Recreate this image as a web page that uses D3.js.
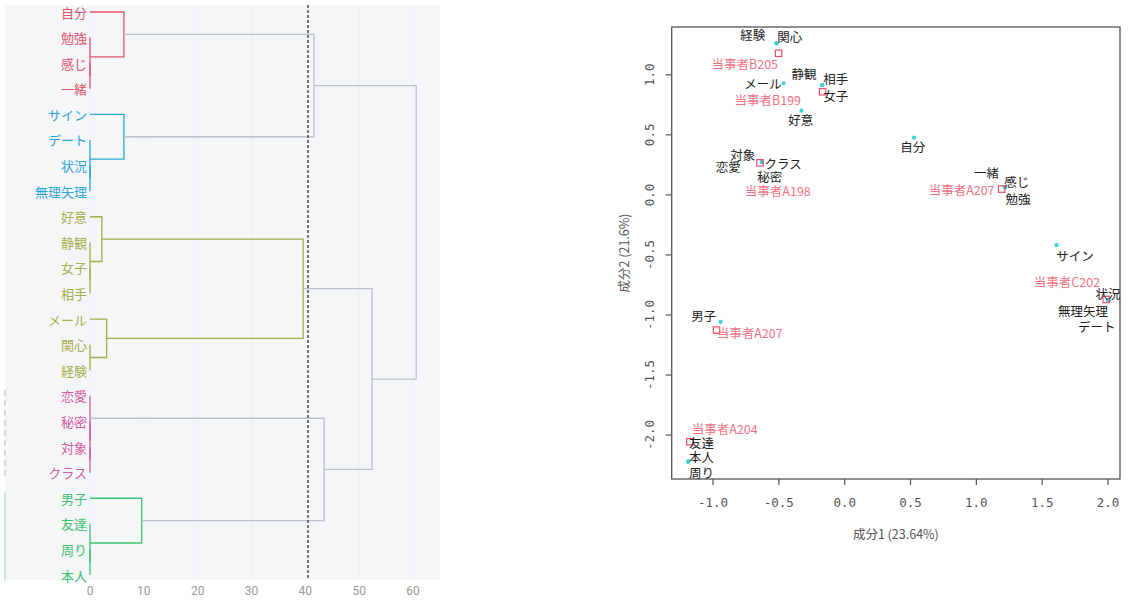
<!DOCTYPE html>
<html><head><meta charset="utf-8">
<script src="https://cdn.jsdelivr.net/npm/d3@7"></script>
<style>body{margin:0;background:#fff;}svg{display:block;font-family:"Noto Sans CJK JP","DejaVu Sans",sans-serif;}</style>
</head><body><svg id="c" width="1128" height="601"></svg>
<script>
// ---------- Dendrogram data ----------
const leaves = ["自分","勉強","感じ","一緒","サイン","デート","状況","無理矢理","好意","静観","女子","相手","メール","関心","経験","恋愛","秘密","対象","クラス","男子","友達","周り","本人"];
const leafCluster = [0,0,0,0,1,1,1,1,2,2,2,2,2,2,2,3,3,3,3,4,4,4,4];
const clusterColors = ["#e2546c","#2ea6d8","#a7ae4a","#d45aa2","#3ec070"];
// merges: [childA, childB, height]; children are leaf names or "m<n>" (1-based merge index)
const merges = [
  ["感じ","一緒",0], ["勉強","m1",0], ["自分","m2",6.3],
  ["状況","無理矢理",0], ["デート","m4",0], ["サイン","m5",6.3],
  ["女子","相手",0], ["静観","m7",0], ["好意","m8",2.2],
  ["関心","経験",0], ["メール","m10",3.1], ["m9","m11",39.6],
  ["対象","クラス",0], ["秘密","m13",0], ["恋愛","m14",0],
  ["周り","本人",0], ["友達","m16",0], ["男子","m17",9.6],
  ["m15","m18",43.5], ["m12","m19",52.4], ["m3","m6",41.6], ["m21","m20",60.6]
];
const cutHeight = 40.5;
const dendroTicks = [0,10,20,30,40,50,60];

// ---------- Correspondence plot data ----------
const terms = ["経験","関心","メール","静観","相手","女子","好意","対象","クラス","恋愛","秘密","自分","一緒","感じ","勉強","サイン","状況","無理矢理","デート","男子","友達","本人","周り"];
const termX = [-0.514,-0.514,-0.46,-0.167,-0.167,-0.167,-0.324,-0.625,-0.625,-0.625,-0.625,0.53,1.222,1.222,1.222,1.614,2.006,2.006,2.006,-0.939,-1.185,-1.185,-1.185];
const termY = [1.258,1.258,0.925,0.911,0.911,0.911,0.697,0.27,0.27,0.27,0.27,0.472,0.058,0.058,0.058,-0.4225,-0.881,-0.881,-0.881,-1.062,-2.225,-2.225,-2.225];
const termLabelX = [-0.694,-0.413,-0.616,-0.306,-0.063,-0.063,-0.329,-0.77,-0.464,-0.881,-0.565,0.52,1.082,1.31,1.32,1.753,2.004,1.814,1.918,-1.066,-1.084,-1.084,-1.084];
const termLabelY = [1.3275,1.311,0.925,1.008,0.961,0.822,0.6275,0.336,0.258,0.23,0.1525,0.397,0.18,0.105,-0.033,-0.506,-0.8225,-0.97,-1.103,-1.006,-2.062,-2.18,-2.312];

const persons = ["当事者B205","当事者B199","当事者A198","当事者A207","当事者C202","当事者A207","当事者A204"];
const personX = [-0.498,-0.164,-0.64,1.196,1.99,-0.97,-1.172];
const personY = [1.175,0.855,0.263,0.044,-0.875,-1.13,-2.06];
const personLabelX = [-0.755,-0.58,-0.504,0.892,1.692,-0.717,-0.907];
const personLabelY = [1.094,0.794,0.036,0.042,-0.728,-1.153,-1.95];

const xTicks = [-1.0,-0.5,0.0,0.5,1.0,1.5,2.0];
const yTicks = [-2.0,-1.5,-1.0,-0.5,0.0,0.5,1.0];
const xTitle = "成分1 (23.64%)";
const yTitle = "成分2 (21.6%)";

const svg = d3.select("#c");

// ================= Dendrogram =================
const gD = svg.append("g");
gD.append("rect").attr("x",5).attr("y",5).attr("width",435).attr("height",575).attr("fill","#f4f6f8");
const xD = d3.scaleLinear().domain([0,60]).range([90,413]);
const yD = d3.scalePoint().domain(leaves).range([12,575]);

gD.selectAll("line.grid").data(dendroTicks).join("line")
  .attr("x1",d=>xD(d)).attr("x2",d=>xD(d)).attr("y1",5).attr("y2",580)
  .attr("stroke","#eef1f4").attr("stroke-width",1);

const nodeInfo = {};
leaves.forEach((l,i)=>{ nodeInfo[l] = {y:yD(l), h:0, cl:leafCluster[i]}; });
merges.forEach((m,i)=>{
  const a = nodeInfo[m[0]], b = nodeInfo[m[1]];
  const cl = (a.cl===b.cl) ? a.cl : -1;
  nodeInfo["m"+(i+1)] = {y:(a.y+b.y)/2, h:m[2], cl:cl, a:a, b:b};
});
const mergeNodes = merges.map((m,i)=>nodeInfo["m"+(i+1)]);
gD.selectAll("path.link").data(mergeNodes).join("path")
  .attr("d",n=>`M${xD(n.a.h)},${n.a.y}H${xD(n.h)}V${n.b.y}H${xD(n.b.h)}`)
  .attr("fill","none")
  .attr("stroke",n=>n.cl>=0?clusterColors[n.cl]:"#b9c1cd")
  .attr("stroke-width",1.3);

// cluster side bars (faint)
gD.selectAll("line.side").data([3,4]).join("line")
  .attr("x1",5).attr("x2",5)
  .attr("y1",c=>yD(leaves[leafCluster.indexOf(c)])-6)
  .attr("y2",c=>yD(leaves[leafCluster.lastIndexOf(c)])+6)
  .attr("stroke",c=>clusterColors[c]).attr("stroke-width",1.2).attr("opacity",0.45)
  .attr("stroke-dasharray",c=>c===3?"6,4":null);

gD.selectAll("text.leaf").data(leaves).join("text")
  .attr("x",87).attr("y",d=>yD(d)).attr("text-anchor","end").attr("dominant-baseline","central")
  .attr("font-size",13).attr("fill",(d,i)=>clusterColors[leafCluster[i]]).text(d=>d);

gD.append("line").attr("x1",xD(cutHeight)).attr("x2",xD(cutHeight)).attr("y1",5).attr("y2",580)
  .attr("stroke","#555").attr("stroke-width",1.6).attr("stroke-dasharray","3,2");

gD.selectAll("text.tick").data(dendroTicks).join("text")
  .attr("x",d=>xD(d)).attr("y",591).attr("text-anchor","middle").attr("dominant-baseline","central")
  .attr("font-size",12).attr("fill","#9a9a9a").attr("font-family","Roboto, sans-serif").text(d=>d);

// ================= Scatter =================
const gS = svg.append("g");
const xS = d3.scaleLinear().domain([-1.31,2.095]).range([671.7,1120]);
const yS = d3.scaleLinear().domain([-2.37,1.394]).range([479,27]);

const axB = gS.append("g").attr("transform","translate(0,479)")
  .call(d3.axisBottom(xS).tickValues(xTicks).tickSize(6).tickPadding(13).tickFormat(d=>d.toFixed(1)));
const axL = gS.append("g").attr("transform","translate(671.7,0)")
  .call(d3.axisLeft(yS).tickValues(yTicks).tickSize(6).tickFormat(d=>d.toFixed(1)));
[axB,axL].forEach(a=>{
  a.select(".domain").remove();
  a.selectAll(".tick line").attr("stroke","#555").attr("stroke-width",1.2);
  a.selectAll(".tick text").attr("fill","#555").attr("font-size",12.5).attr("font-family","DejaVu Sans Mono, monospace");
});
axL.selectAll(".tick text").attr("transform","rotate(-90)").attr("x",0).attr("y",-22)
  .attr("dy","0").attr("text-anchor","middle").attr("dominant-baseline","central");

gS.append("rect").attr("x",671.7).attr("y",27).attr("width",1120-671.7).attr("height",479-27)
  .attr("fill","none").attr("stroke","#555").attr("stroke-width",1.3);

gS.append("text").attr("x",(671.7+1120)/2).attr("y",533).attr("text-anchor","middle")
  .attr("dominant-baseline","central").attr("font-size",12.5).attr("fill","#555").text(xTitle);
gS.append("text").attr("transform",`translate(623,${(27+479)/2}) rotate(-90)`).attr("text-anchor","middle")
  .attr("dominant-baseline","central").attr("font-size",12.5).attr("fill","#555").text(yTitle);

gS.selectAll("circle.term").data(terms).join("circle")
  .attr("cx",(d,i)=>xS(termX[i])).attr("cy",(d,i)=>yS(termY[i])).attr("r",2.1)
  .attr("fill","#3cd3dc");
gS.selectAll("rect.person").data(persons).join("rect")
  .attr("x",(d,i)=>xS(personX[i])-3.2).attr("y",(d,i)=>yS(personY[i])-3.2)
  .attr("width",6.4).attr("height",6.4).attr("fill","none").attr("stroke","#e8506a").attr("stroke-width",1.2);

gS.selectAll("text.term").data(terms).join("text")
  .attr("x",(d,i)=>xS(termLabelX[i])).attr("y",(d,i)=>yS(termLabelY[i]))
  .attr("text-anchor","middle").attr("dominant-baseline","central")
  .attr("font-size",12.5).attr("fill","#222").text(d=>d);
gS.selectAll("text.person").data(persons).join("text")
  .attr("x",(d,i)=>xS(personLabelX[i])).attr("y",(d,i)=>yS(personLabelY[i]))
  .attr("text-anchor","middle").attr("dominant-baseline","central")
  .attr("font-size",12.5).attr("fill","#f27283").text(d=>d);
</script></body></html>
